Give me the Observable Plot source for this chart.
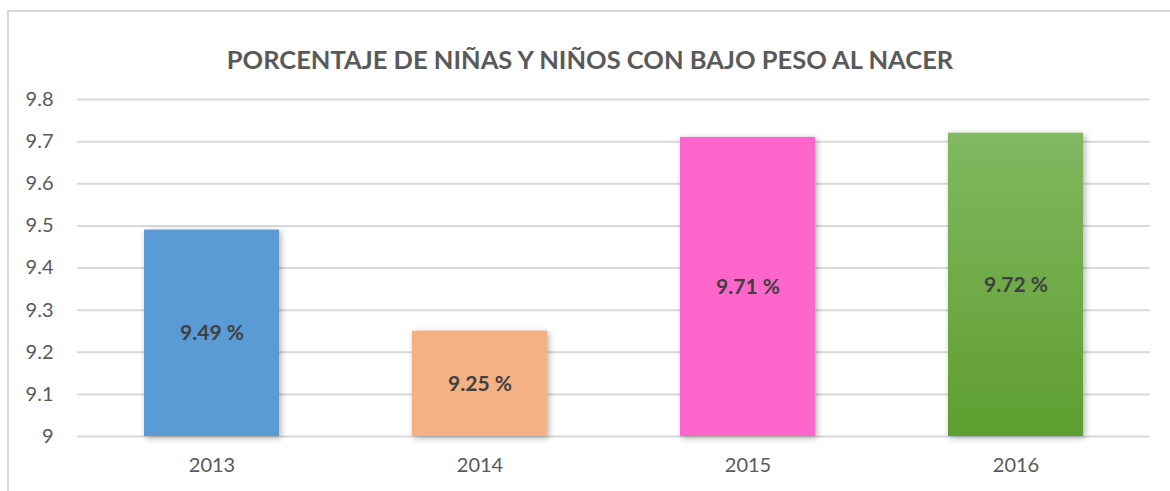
<!DOCTYPE html>
<html>
<head>
<meta charset="utf-8">
<script src="https://cdn.jsdelivr.net/npm/d3@7"></script>
<script src="https://cdn.jsdelivr.net/npm/@observablehq/plot@0.6"></script>
<style>
  html, body { margin: 0; padding: 0; background: #fff; overflow: hidden; }
  #wrap { position: relative; width: 1170px; height: 491px; }
  #frame { position: absolute; left: 7px; top: 10px; width: 1200px; height: 520px; border: 2px solid #D9D9D9; box-sizing: border-box; }
  #chart { position: absolute; left: 0; top: 0; }
</style>
</head>
<body>
<div id="wrap"><div id="frame"></div><div id="chart"></div></div>
<script>
const years = ["2013", "2014", "2015", "2016"];
const values = [9.49, 9.25, 9.71, 9.72];
const barColors = ["#5B9BD5", "#F4B183", "#FF66CC", "url(#g2016)"];
const yTicks = [9, 9.1, 9.2, 9.3, 9.4, 9.5, 9.6, 9.7, 9.8];
const title = "PORCENTAJE DE NIÑAS Y NIÑOS CON BAJO PESO AL NACER";

const data = years.map((y, i) => ({year: y, value: values[i]}));
const font = "Lato, 'Open Sans', sans-serif";

const plot = Plot.plot({
  width: 1170,
  height: 491,
  marginLeft: 77,
  marginRight: 20,
  marginTop: 99,
  marginBottom: 55,
  style: {fontFamily: font, fontSize: "20px", color: "#595959", background: "transparent"},
  x: {domain: years, paddingInner: 0.497, paddingOuter: 0.2485, label: null, tickSize: 0, tickPadding: 21},
  y: {domain: [9, 9.8], ticks: yTicks, tickFormat: d => String(+d.toFixed(1)), label: null, tickSize: 0, tickPadding: 24},
  color: {domain: years, range: barColors},
  marks: [
    Plot.gridY(yTicks, {stroke: "#D9D9D9", strokeOpacity: 1, strokeWidth: 2}),
    Plot.barY(data, {x: "year", y1: 9, y2: "value", fill: "year"}),
    Plot.text(data, {x: "year", y: d => (9 + d.value) / 2, text: d => d.value.toFixed(2) + " %",
      fontWeight: "bold", fontSize: 21, fill: "#404040"}),
    Plot.text([title], {frameAnchor: "top", dy: -49, dx: -24, text: d => d, fontWeight: "bold", fontSize: 25.5, fill: "#595959"})
  ]
});

const svg = d3.select(plot);
const defs = svg.insert("defs", ":first-child");
const g = defs.append("linearGradient").attr("id", "g2016").attr("x1", 0).attr("y1", 0).attr("x2", 0).attr("y2", 1);
g.append("stop").attr("offset", "0%").attr("stop-color", "#81B861");
g.append("stop").attr("offset", "100%").attr("stop-color", "#5E9E2F");
svg.selectAll("g[aria-label='bar']").style("filter", "drop-shadow(2px 2px 3px rgba(0,0,0,0.3))");

document.getElementById("chart").appendChild(plot);
</script>
</body>
</html>
